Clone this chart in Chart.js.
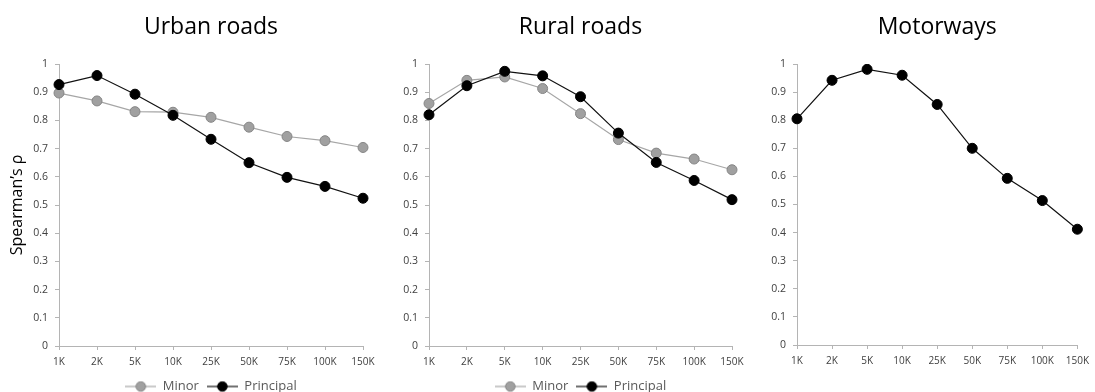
<!DOCTYPE html>
<html>
<head>
<meta charset="utf-8">
<script src="https://cdn.jsdelivr.net/npm/chart.js@4/dist/chart.umd.min.js"></script>
<style>
  html, body { margin: 0; padding: 0; background: #fff; overflow: hidden; width: 1095px; height: 392px; }
  .panel { position: absolute; top: 0; }
</style>
</head>
<body>
<div class="panel" style="left:0px;width:390px;height:403px;"><canvas id="c1"></canvas></div>
<div class="panel" style="left:390px;width:370px;height:403px;"><canvas id="c2"></canvas></div>
<div class="panel" style="left:760px;width:335px;height:403px;"><canvas id="c3"></canvas></div>
<script>
// ---- data ----
const categories = ['1K', '2K', '5K', '10K', '25K', '50K', '75K', '100K', '150K'];
const panelTitles = ['Urban roads', 'Rural roads', 'Motorways'];
const seriesNames = ['Minor', 'Principal'];
const urbanMinor = [0.897, 0.869, 0.831, 0.829, 0.811, 0.776, 0.743, 0.728, 0.704];
const urbanPrincipal = [0.927, 0.959, 0.893, 0.818, 0.733, 0.650, 0.598, 0.566, 0.524];
const ruralMinor = [0.860, 0.942, 0.954, 0.913, 0.824, 0.732, 0.684, 0.663, 0.625];
const ruralPrincipal = [0.820, 0.923, 0.974, 0.958, 0.884, 0.755, 0.651, 0.587, 0.519];
const motorways = [0.805, 0.942, 0.981, 0.960, 0.856, 0.700, 0.593, 0.514, 0.412];
const yMin = 0, yMax = 1, yStep = 0.1;
const yAxisTitle = 'Spearman\u2019s \u03c1';

// ---- styles ----
const FONT = "'Open Sans', 'DejaVu Sans', sans-serif";
const AXIS_COLOR = '#b4b4b4';
const MINOR_LINE = '#a6a6a6', MINOR_FILL = '#a0a0a0', MINOR_BORDER = '#858585';
const PRIN_LINE = '#111111', PRIN_FILL = '#000000';

function legendIcon(lineColor, fill, border) {
  const c = document.createElement('canvas');
  c.width = 31; c.height = 12;
  const g = c.getContext('2d');
  g.strokeStyle = lineColor; g.lineWidth = 1.2;
  g.beginPath(); g.moveTo(0, 6); g.lineTo(31, 6); g.stroke();
  g.beginPath(); g.arc(15.5, 6, 4.8, 0, Math.PI * 2);
  g.fillStyle = fill; g.fill();
  g.strokeStyle = border; g.lineWidth = 1; g.stroke();
  return c;
}
const icons = [legendIcon(MINOR_LINE, MINOR_FILL, MINOR_BORDER), legendIcon(PRIN_LINE, PRIN_FILL, PRIN_FILL)];

function minorDs(data) {
  return { label: seriesNames[0], data, borderColor: MINOR_LINE, backgroundColor: MINOR_FILL,
    pointBackgroundColor: MINOR_FILL, pointBorderColor: MINOR_BORDER, pointBorderWidth: 1,
    pointRadius: 5, borderWidth: 1.2, tension: 0, order: 2 };
}
function prinDs(data) {
  return { label: seriesNames[1], data, borderColor: PRIN_LINE, backgroundColor: PRIN_FILL,
    pointBackgroundColor: PRIN_FILL, pointBorderColor: PRIN_FILL, pointBorderWidth: 1,
    pointRadius: 5, borderWidth: 1.2, tension: 0, order: 1 };
}

function makeChart(id, title, datasets, opts) {
  const ctx = document.getElementById(id);
  return new Chart(ctx, {
    type: 'line',
    data: { labels: categories, datasets },
    options: {
      responsive: true, maintainAspectRatio: false, animation: false,
      layout: { padding: { left: 0, right: opts.padRight, top: 0, bottom: opts.padBottom } },
      plugins: {
        title: { display: true, text: title, fullSize: false, color: '#000',
          font: { family: FONT, size: 23, weight: 'normal', lineHeight: 1.2 },
          padding: { top: 13.2, bottom: 23.2 } },
        legend: { display: opts.legend, position: 'bottom', fullSize: false,
          labels: { usePointStyle: true, pointStyleWidth: 31, padding: 8, color: '#595959',
            font: { family: FONT, size: 13 },
            sort: (a, b) => a.datasetIndex - b.datasetIndex,
            generateLabels: (chart) => Chart.defaults.plugins.legend.labels.generateLabels(chart)
              .map((l) => Object.assign(l, { pointStyle: icons[l.datasetIndex] })) } },
        tooltip: { enabled: false }
      },
      scales: {
        x: {
          offset: false,
          grid: { display: true, drawOnChartArea: false, drawTicks: true, tickLength: 4, color: AXIS_COLOR },
          border: { display: true, color: AXIS_COLOR, width: 1 },
          ticks: { color: '#404040', font: { family: FONT, size: 10 }, padding: 6, maxRotation: 0, autoSkip: false },
          afterFit: (s) => { s.height = 26; }
        },
        y: {
          min: yMin, max: yMax,
          grid: { display: true, drawOnChartArea: false, drawTicks: true, tickLength: 4, color: AXIS_COLOR },
          border: { display: true, color: AXIS_COLOR, width: 1 },
          ticks: { stepSize: yStep, color: '#404040', font: { family: FONT, size: 10.5 }, padding: 7,
            callback: (v) => String(Number(Number(v).toFixed(1))) },
          title: { display: opts.yTitle, text: yAxisTitle, color: '#000',
            font: { family: FONT, size: 16 }, padding: { top: 8, bottom: 0 } },
          afterFit: (s) => { s.width = opts.yWidth; }
        }
      }
    }
  });
}

makeChart('c1', panelTitles[0], [minorDs(urbanMinor), prinDs(urbanPrincipal)],
  { padRight: 27, padBottom: 0, legend: true, yTitle: true, yWidth: 59 });
makeChart('c2', panelTitles[1], [minorDs(ruralMinor), prinDs(ruralPrincipal)],
  { padRight: 28, padBottom: 0, legend: true, yTitle: false, yWidth: 39 });
makeChart('c3', panelTitles[2], [prinDs(motorways)].map(d => Object.assign(d, { label: panelTitles[2] })),
  { padRight: 17, padBottom: 32, legend: false, yTitle: false, yWidth: 37 });
</script>
</body>
</html>
